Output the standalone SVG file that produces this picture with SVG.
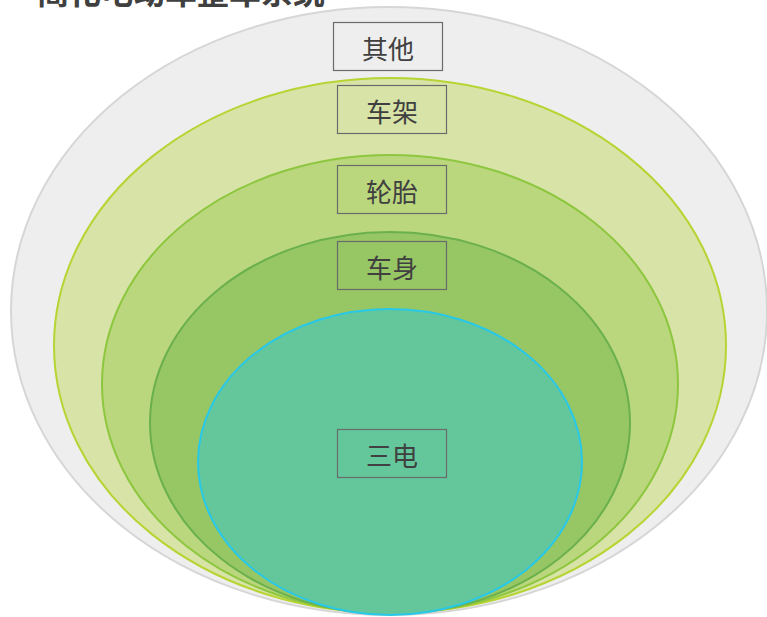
<svg xmlns="http://www.w3.org/2000/svg" width="767" height="617" viewBox="0 0 767 617">
<style>
.lbl{font-family:"Noto Sans CJK SC","Noto Sans",sans-serif;font-size:26px;fill:#404040;text-anchor:middle}
.box{fill:none;stroke:#6b6b6b;stroke-width:1.2}
.title{font-family:"Noto Sans CJK SC","Noto Sans",sans-serif;font-size:32px;font-weight:bold;fill:#404040}
</style>
<rect width="767" height="617" fill="#ffffff"/>
<text class="title" x="37" y="4">简化电动车整车系统</text>
<g id="layer-other">
<ellipse cx="389" cy="311" rx="378" ry="304" fill="#eeeeee" stroke="#d6d6d6" stroke-width="2"/>
</g>
<g id="layer-frame">
<ellipse cx="390" cy="345.5" rx="336" ry="267.5" fill="#d8e3a7" stroke="#b6d433" stroke-width="2"/>
</g>
<g id="layer-tire">
<ellipse cx="390" cy="384" rx="288" ry="229" fill="#bad77d" stroke="#8dc63f" stroke-width="2"/>
</g>
<g id="layer-body">
<ellipse cx="390" cy="423" rx="240" ry="191" fill="#97c664" stroke="#6ab04c" stroke-width="2"/>
</g>
<g id="layer-battery">
<ellipse cx="390" cy="462" rx="192" ry="153" fill="#64c79c" stroke="#28c8e8" stroke-width="2"/>
</g>
<g id="node-qita">
<rect class="box" x="333.5" y="22.5" width="109" height="48"/>
<text class="lbl" x="388" y="59">其他</text>
</g>
<g id="node-chejia">
<rect class="box" x="337.5" y="85.5" width="109" height="48"/>
<text class="lbl" x="392" y="122">车架</text>
</g>
<g id="node-luntai">
<rect class="box" x="337.5" y="165.5" width="109" height="48"/>
<text class="lbl" x="392" y="202">轮胎</text>
</g>
<g id="node-cheshen">
<rect class="box" x="337.5" y="241.5" width="109" height="48"/>
<text class="lbl" x="392" y="278">车身</text>
</g>
<g id="node-sandian">
<rect class="box" x="337.5" y="429.5" width="109" height="48"/>
<text class="lbl" x="392" y="466">三电</text>
</g>
<g id="connectors"></g>
</svg>
